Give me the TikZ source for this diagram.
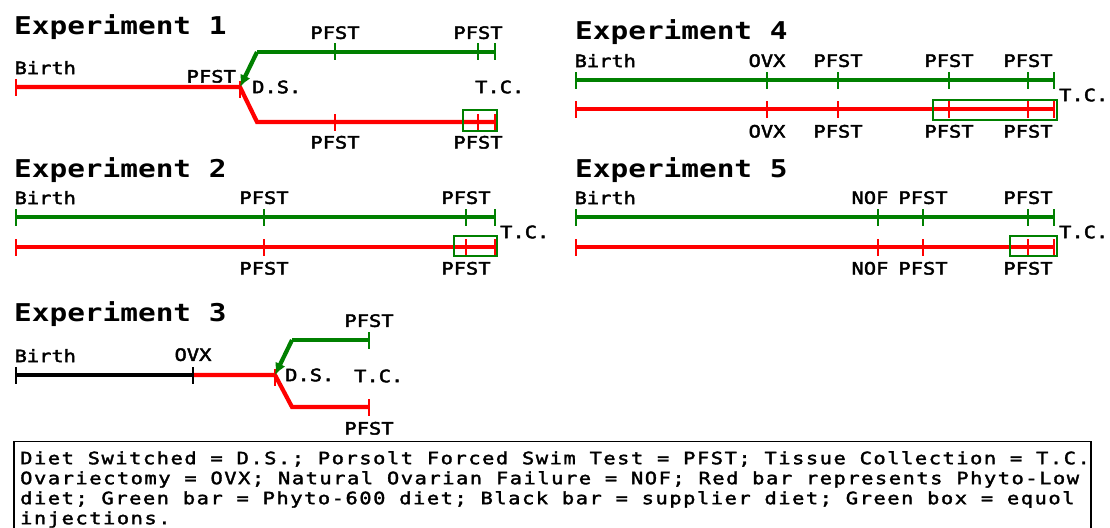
\documentclass[tikz,border=0pt]{standalone}
\usepackage{fontspec}
\setmainfont{DejaVu Sans Mono}[FakeStretch=1.2, UprightFeatures={FakeBold=2.5}]
\newfontfamily\legfont{DejaVu Sans Mono}[FakeStretch=1.2, LetterSpace=9, FakeBold=2]
\usetikzlibrary{positioning, arrows.meta}
\definecolor{dgreen}{RGB}{0,128,0}
\newcommand{\lblfont}{\fontsize{17}{20}\selectfont}
\newcommand{\ttlfont}{\fontsize{24.5}{28}\selectfont\bfseries}
\tikzstyle{every node}=[font=\lblfont, inner sep=0pt]
\tikzstyle{exptitle} = [font=\ttlfont, anchor=base west]
\tikzstyle{gtick} = [rectangle, fill=dgreen, minimum width=2.8pt, minimum height=17pt]
\tikzstyle{rtick} = [gtick, fill=red]
\tikzstyle{ktick} = [gtick, fill=black]
\tikzstyle{gbar} = [draw=dgreen, line width=4.2pt]
\tikzstyle{rbar} = [draw=red, line width=4.2pt]
\tikzstyle{kbar} = [draw=black, line width=4.2pt]
\tikzstyle{gline} = [gbar, -{Latex[length=12pt,width=11pt]}]
\tikzstyle{ebox} = [draw=dgreen, line width=1.3pt]

\begin{document}
\begin{tikzpicture}[x=1pt, y=-1pt]
    \path[use as bounding box, fill=white] (0,0) rectangle (1110,527);

    % Experiment 1
    \node[exptitle] (t1) at (14,35) {Experiment 1};
    \path[rbar] (16,87) -- (240,87) -- (257,122) -- (495,122);
    \node[rtick] (e1r0) at (16,87) {};
    \node[rtick] (e1rs) at (240,89) {};
    \node[rtick] (e1r1) at (335,122) {};
    \node[rtick] (e1r2) at (478,122) {};
    \node[rtick] (e1r3) at (495,122) {};
    \coordinate (e1split) at (240,87);
    \coordinate (e1gk) at (257,52);
    \path[gbar] (e1gk) -- (495,52);
    \node[gtick] (e1g1) at (335,52) {};
    \node[gtick] (e1g2) at (478,52) {};
    \node[gtick] (e1g3) at (495,52) {};
    \path[gline] (e1gk) -- (e1split);
    \node[anchor=south west] (e1birth) at ([yshift=4pt]e1r0.north west) {Birth};
    \node[above=4pt of e1g1] (e1p1) {PFST};
    \node[above=4pt of e1g2] (e1p2) {PFST};
    \node[below=5pt of e1r1] (e1p3) {PFST};
    \node[below=5pt of e1r2] (e1p4) {PFST};
    \node[anchor=south east] (e1p0) at ([xshift=-4pt,yshift=4pt]e1split) {PFST};
    \node[anchor=west] (e1ds) at ([xshift=12pt]e1split) {D.S.};
    \node[anchor=west] (e1tc) at (475,87) {T.C.};
    \draw[ebox] (463,110) rectangle (497,131);

    % Experiment 2
    \node[exptitle] (t2) at (14,177) {Experiment 2};
    \path[gbar] (16,217) -- (495,217);
    \path[rbar] (16,247) -- (495,247);
    \node[gtick] (e2g0) at (16,217) {};
    \node[gtick] (e2g1) at (264,217) {};
    \node[gtick] (e2g2) at (466,217) {};
    \node[gtick] (e2g3) at (495,217) {};
    \node[rtick] (e2r0) at (16,247) {};
    \node[rtick] (e2r1) at (264,247) {};
    \node[rtick] (e2r2) at (466,247) {};
    \node[rtick] (e2r3) at (495,247) {};
    \node[anchor=south west] (e2birth) at ([yshift=4pt]e2g0.north west) {Birth};
    \node[above=4pt of e2g1] (e2p1) {PFST};
    \node[above=4pt of e2g2] (e2p2) {PFST};
    \node[below=6pt of e2r1] (e2p3) {PFST};
    \node[below=6pt of e2r2] (e2p4) {PFST};
    \node[anchor=west] (e2tc) at (500,232) {T.C.};
    \draw[ebox] (454,236) rectangle (497,256);

    % Experiment 3
    \node[exptitle] (t3) at (14,321) {Experiment 3};
    \path[kbar] (16,375) -- (193,375);
    \path[rbar] (193,375) -- (275,375) -- (292,407) -- (369,407);
    \node[ktick] (e3k0) at (16,375) {};
    \node[ktick] (e3k1) at (193,375) {};
    \node[rtick] (e3rs) at (275,377) {};
    \node[rtick] (e3r1) at (369,407) {};
    \coordinate (e3split) at (275,375);
    \coordinate (e3gk) at (292,340);
    \path[gbar] (e3gk) -- (369,340);
    \node[gtick] (e3g1) at (369,340) {};
    \path[gline] (e3gk) -- (e3split);
    \node[anchor=south west] (e3birth) at ([yshift=4pt]e3k0.north west) {Birth};
    \node[above=5pt of e3k1] (e3ovx) {OVX};
    \node[above=4pt of e3g1] (e3p1) {PFST};
    \node[below=6pt of e3r1] (e3p2) {PFST};
    \node[anchor=west] (e3ds) at ([xshift=10pt]e3split) {D.S.};
    \node[anchor=west] (e3tc) at (354,376) {T.C.};

    % Experiment 4
    \node[exptitle] (t4) at (575,40) {Experiment 4};
    \path[gbar] (576,80) -- (1054,80);
    \path[rbar] (576,109) -- (1054,109);
    \node[gtick] (e4g0) at (576,80) {};
    \node[gtick] (e4g1) at (767,80) {};
    \node[gtick] (e4g2) at (838,80) {};
    \node[gtick] (e4g3) at (949,80) {};
    \node[gtick] (e4g4) at (1028,80) {};
    \node[gtick] (e4g5) at (1054,80) {};
    \node[rtick] (e4r0) at (576,109) {};
    \node[rtick] (e4r1) at (767,109) {};
    \node[rtick] (e4r2) at (838,109) {};
    \node[rtick] (e4r3) at (949,109) {};
    \node[rtick] (e4r4) at (1028,109) {};
    \node[rtick] (e4r5) at (1054,109) {};
    \node[anchor=south west] (e4birth) at ([yshift=4pt]e4g0.north west) {Birth};
    \node[above=4pt of e4g1] (e4o1) {OVX};
    \node[above=4pt of e4g2] (e4p1) {PFST};
    \node[above=4pt of e4g3] (e4p2) {PFST};
    \node[above=4pt of e4g4] (e4p3) {PFST};
    \node[below=7pt of e4r1] (e4o2) {OVX};
    \node[below=7pt of e4r2] (e4p4) {PFST};
    \node[below=7pt of e4r3] (e4p5) {PFST};
    \node[below=7pt of e4r4] (e4p6) {PFST};
    \node[anchor=west] (e4tc) at (1059,95) {T.C.};
    \draw[ebox] (933,100) rectangle (1057,120);

    % Experiment 5
    \node[exptitle] (t5) at (575,177) {Experiment 5};
    \path[gbar] (576,217) -- (1054,217);
    \path[rbar] (576,247) -- (1054,247);
    \node[gtick] (e5g0) at (576,217) {};
    \node[gtick] (e5g1) at (878,217) {};
    \node[gtick] (e5g2) at (923,217) {};
    \node[gtick] (e5g3) at (1028,217) {};
    \node[gtick] (e5g4) at (1054,217) {};
    \node[rtick] (e5r0) at (576,247) {};
    \node[rtick] (e5r1) at (878,247) {};
    \node[rtick] (e5r2) at (923,247) {};
    \node[rtick] (e5r3) at (1028,247) {};
    \node[rtick] (e5r4) at (1054,247) {};
    \node[anchor=south west] (e5birth) at ([yshift=4pt]e5g0.north west) {Birth};
    \node[above=4pt of e5g1, xshift=-8pt] (e5n1) {NOF};
    \node[above=4pt of e5g2] (e5p1) {PFST};
    \node[above=4pt of e5g3] (e5p2) {PFST};
    \node[below=6pt of e5r1, xshift=-8pt] (e5n2) {NOF};
    \node[below=6pt of e5r2] (e5p3) {PFST};
    \node[below=6pt of e5r3] (e5p4) {PFST};
    \node[anchor=west] (e5tc) at (1059,232) {T.C.};
    \draw[ebox] (1010,236) rectangle (1057,256);

    % Legend
    \draw[line width=1.3pt] (14,441.5) rectangle (1091,560);
    \node[anchor=north west, align=left, font=\legfont\fontsize{17}{20}\selectfont] (legend) at (20,451)
        {Diet Switched = D.S.; Porsolt Forced Swim Test = PFST; Tissue Collection = T.C.\\
         Ovariectomy = OVX; Natural Ovarian Failure = NOF; Red bar represents Phyto-Low\\
         diet; Green bar = Phyto-600 diet; Black bar = supplier diet; Green box = equol\\
         injections.};
\end{tikzpicture}
\end{document}
